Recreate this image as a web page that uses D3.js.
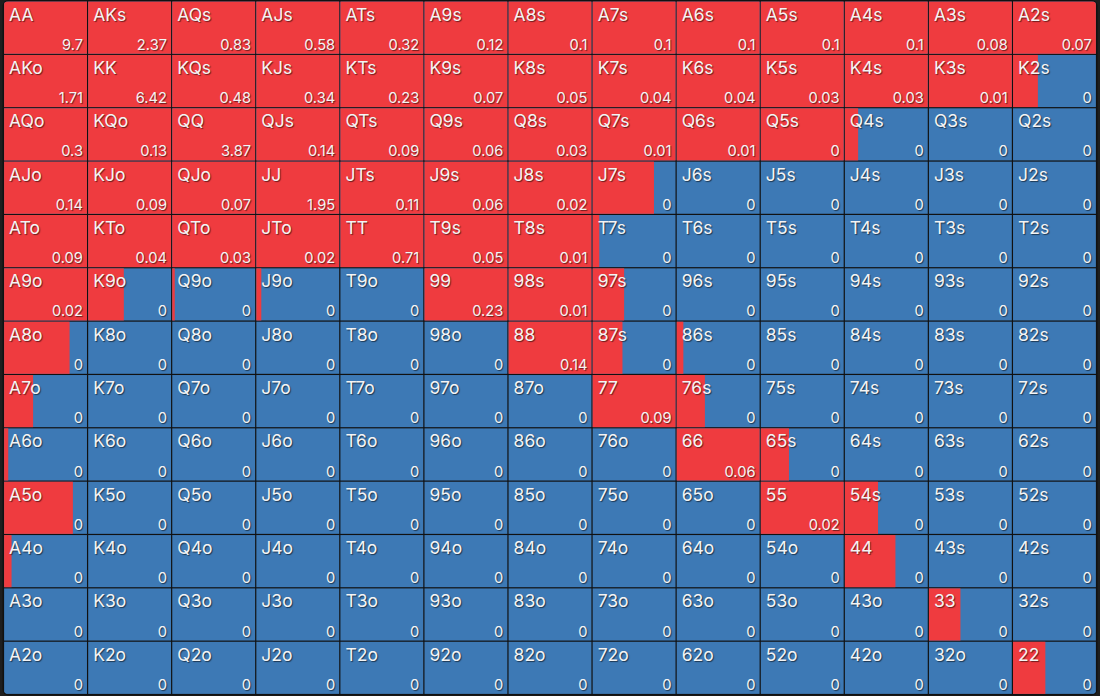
<!DOCTYPE html>
<html>
<head>
<meta charset="utf-8">
<script src="https://cdn.jsdelivr.net/npm/d3@7"></script>
<style>
  html, body { margin: 0; padding: 0; background: #1e1e1e; }
  svg { display: block; }
  text { font-family: Inter, "Noto Sans", sans-serif; fill: #f4f4f4; text-shadow: 1px 1px 1px rgba(0,0,0,0.55); }
</style>
</head>
<body>
<script>
const ranks = ["A","K","Q","J","T","9","8","7","6","5","4","3","2"];

// value shown in the bottom-right of each cell (row = first rank, col = second rank)
const values = [
  [9.7, 2.37, 0.83, 0.58, 0.32, 0.12, 0.1, 0.1, 0.1, 0.1, 0.1, 0.08, 0.07],
  [1.71, 6.42, 0.48, 0.34, 0.23, 0.07, 0.05, 0.04, 0.04, 0.03, 0.03, 0.01, 0],
  [0.3, 0.13, 3.87, 0.14, 0.09, 0.06, 0.03, 0.01, 0.01, 0, 0, 0, 0],
  [0.14, 0.09, 0.07, 1.95, 0.11, 0.06, 0.02, 0, 0, 0, 0, 0, 0],
  [0.09, 0.04, 0.03, 0.02, 0.71, 0.05, 0.01, 0, 0, 0, 0, 0, 0],
  [0.02, 0, 0, 0, 0, 0.23, 0.01, 0, 0, 0, 0, 0, 0],
  [0, 0, 0, 0, 0, 0, 0.14, 0, 0, 0, 0, 0, 0],
  [0, 0, 0, 0, 0, 0, 0, 0.09, 0, 0, 0, 0, 0],
  [0, 0, 0, 0, 0, 0, 0, 0, 0.06, 0, 0, 0, 0],
  [0, 0, 0, 0, 0, 0, 0, 0, 0, 0.02, 0, 0, 0],
  [0, 0, 0, 0, 0, 0, 0, 0, 0, 0, 0, 0, 0],
  [0, 0, 0, 0, 0, 0, 0, 0, 0, 0, 0, 0, 0],
  [0, 0, 0, 0, 0, 0, 0, 0, 0, 0, 0, 0, 0]
];

// share of each cell filled red (rest is blue)
const redShare = [
  [1, 1, 1, 1, 1, 1, 1, 1, 1, 1, 1, 1, 1],
  [1, 1, 1, 1, 1, 1, 1, 1, 1, 1, 1, 1, 0.30],
  [1, 1, 1, 1, 1, 1, 1, 1, 1, 1, 0.16, 0, 0],
  [1, 1, 1, 1, 1, 1, 1, 0.74, 0, 0, 0, 0, 0],
  [1, 1, 1, 1, 1, 1, 1, 0.08, 0, 0, 0, 0, 0],
  [1, 0.43, 0.03, 0.06, 0, 1, 1, 0.38, 0, 0, 0, 0, 0],
  [0.79, 0, 0, 0, 0, 0, 1, 0.36, 0.08, 0, 0, 0, 0],
  [0.35, 0, 0, 0, 0, 0, 0, 1, 0.34, 0, 0, 0, 0],
  [0.05, 0, 0, 0, 0, 0, 0, 0, 1, 0.34, 0, 0, 0],
  [0.83, 0, 0, 0, 0, 0, 0, 0, 0, 1, 0.40, 0, 0],
  [0.09, 0, 0, 0, 0, 0, 0, 0, 0, 0, 0.61, 0, 0],
  [0, 0, 0, 0, 0, 0, 0, 0, 0, 0, 0, 0.38, 0],
  [0, 0, 0, 0, 0, 0, 0, 0, 0, 0, 0, 0, 0.39]
];

const W = 1100, H = 696;
const RED = "#ef3b3f", BLUE = "#3d79b5", LINE = "#111";

function handLabel(r, c) {
  if (r === c) return ranks[r] + ranks[c];
  if (c > r) return ranks[r] + ranks[c] + "s";
  return ranks[c] + ranks[r] + "o";
}

const cells = [];
for (let r = 0; r < 13; r++) {
  for (let c = 0; c < 13; c++) {
    cells.push({ r, c, label: handLabel(r, c), value: values[r][c], red: redShare[r][c] });
  }
}

const x = d3.scaleBand().domain(d3.range(13)).range([3.5, 1096.5]);
const y = d3.scaleBand().domain(d3.range(13)).range([1, 694.5]);
const gap = 1.2;
const cw = x.bandwidth() - gap, ch = y.bandwidth() - gap;
const fill = d3.scaleLinear().domain([0, 1]).range([0, cw]);

const svg = d3.select("body").append("svg").attr("width", W).attr("height", H);

const defs = svg.append("defs");
defs.append("clipPath").attr("id", "gridClip")
  .append("rect")
  .attr("x", 3.5).attr("y", 1).attr("width", 1093).attr("height", 693.5).attr("rx", 5);

svg.append("rect")
  .attr("x", 2.5).attr("y", 0).attr("width", 1095).attr("height", 695.5).attr("rx", 6)
  .attr("fill", LINE);

const grid = svg.append("g").attr("clip-path", "url(#gridClip)");

const g = grid.selectAll("g.cell").data(cells).enter().append("g")
  .attr("class", "cell")
  .attr("transform", d => `translate(${x(d.c) + gap / 2},${y(d.r) + gap / 2})`);

g.append("rect").attr("width", cw).attr("height", ch).attr("fill", BLUE);
g.append("rect").attr("width", d => fill(d.red)).attr("height", ch).attr("fill", RED);

g.append("text")
  .attr("x", 5).attr("y", 19)
  .attr("font-size", 17.5)
  .text(d => d.label);

g.append("text")
  .attr("x", cw - 4).attr("y", ch - 4)
  .attr("text-anchor", "end")
  .attr("font-size", 14.7)
  .text(d => d.value);
</script>
</body>
</html>
